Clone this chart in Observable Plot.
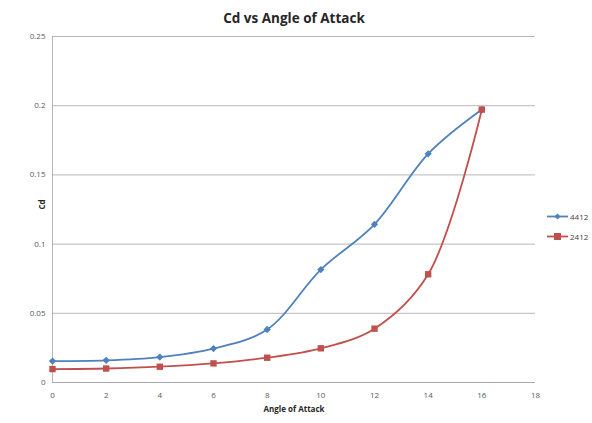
<!DOCTYPE html>
<html>
<head>
<meta charset="utf-8">
<script src="https://cdn.jsdelivr.net/npm/d3@7"></script>
<script src="https://cdn.jsdelivr.net/npm/@observablehq/plot@0.6"></script>
<style>
  html, body { margin: 0; padding: 0; background: #fff; }
  #wrap { position: relative; width: 592px; height: 423px; font-family: "Open Sans", "Liberation Sans", sans-serif; }
  #legend { position: absolute; left: 547px; top: 206px; font-size: 8px; color: #404040; }
  #legend div { display: flex; align-items: center; height: 20px; }
  #legend svg { margin-right: 1px; }
</style>
</head>
<body>
<div id="wrap"></div>
<script>
const title = "Cd vs Angle of Attack";
const xLabel = "Angle of Attack";
const yLabel = "Cd";
const angles = [0, 2, 4, 6, 8, 10, 12, 14, 16];
const cd4412 = [0.0155, 0.0160, 0.0184, 0.0245, 0.0383, 0.0816, 0.1143, 0.1652, 0.1972];
const cd2412 = [0.0097, 0.0101, 0.0114, 0.0138, 0.0179, 0.0247, 0.0389, 0.0782, 0.1972];
const seriesNames = ["4412", "2412"];
const seriesColors = ["#4F81BD", "#C0504D"];
const seriesSymbols = ["diamond", "square"];
const xTicks = [0, 2, 4, 6, 8, 10, 12, 14, 16, 18];
const yTicks = [0, 0.05, 0.1, 0.15, 0.2, 0.25];

const data = [];
angles.forEach((a, i) => {
  data.push({angle: a, cd: cd4412[i], series: seriesNames[0]});
  data.push({angle: a, cd: cd2412[i], series: seriesNames[1]});
});

const chart = Plot.plot({
  width: 592,
  height: 423,
  marginLeft: 52,
  marginRight: 57,
  marginTop: 36,
  marginBottom: 41,
  style: {fontFamily: "'Open Sans', 'Liberation Sans', sans-serif", fontSize: "8px", color: "#595959", background: "#fff"},
  x: {domain: [0, 18], ticks: xTicks, tickSize: 0, tickPadding: 10, label: null},
  y: {domain: [0, 0.25], ticks: yTicks, tickSize: 0, tickPadding: 7, label: null, tickFormat: d => String(d)},
  color: {domain: seriesNames, range: seriesColors},
  marks: [
    Plot.gridY(yTicks, {stroke: "#a6a6a6", strokeOpacity: 1, strokeWidth: 0.8}),
    Plot.ruleX([0], {stroke: "#a6a6a6", strokeWidth: 0.8}),
    Plot.ruleY([0], {stroke: "#a6a6a6", strokeWidth: 0.8}),
    Plot.axisX({ticks: xTicks, tickSize: 0, tickPadding: 10, label: null}),
    Plot.axisY({ticks: yTicks, tickSize: 0, tickPadding: 7, label: null, tickFormat: d => String(d)}),
    Plot.line(data, {x: "angle", y: "cd", z: "series", stroke: "series", strokeWidth: 1.8, curve: "catmull-rom"}),
    Plot.dot(data.filter(d => d.series === "4412"), {x: "angle", y: "cd", fill: "series", symbol: "square", rotate: 45, r: 2.9, stroke: "none"}),
    Plot.dot(data.filter(d => d.series === "2412"), {x: "angle", y: "cd", fill: "series", symbol: "square", r: 3.6, stroke: "none"}),
    Plot.text([title], {frameAnchor: "top", dy: -23, fontSize: 13.5, fontWeight: "bold", fill: "#262626"}),
    Plot.text([xLabel], {frameAnchor: "bottom", dy: 29, fontSize: 8, fontWeight: "bold", fill: "#262626"}),
    Plot.text([yLabel], {frameAnchor: "left", dx: -10, rotate: -90, fontSize: 8, fontWeight: "bold", fill: "#262626"})
  ]
});

const wrap = document.getElementById("wrap");
wrap.appendChild(chart);

const legend = document.createElement("div");
legend.id = "legend";
seriesNames.forEach((name, i) => {
  const sym = seriesSymbols[i] === "square"
    ? `<rect x="7" y="3" width="7" height="7" fill="${seriesColors[i]}"/>`
    : `<path d="M10.5 3.5 L13.5 6.5 L10.5 9.5 L7.5 6.5 Z" fill="${seriesColors[i]}"/>`;
  const row = document.createElement("div");
  row.innerHTML = `<svg width="22" height="13"><line x1="0" x2="21" y1="6.5" y2="6.5" stroke="${seriesColors[i]}" stroke-width="1.8"/>${sym}</svg><span>${name}</span>`;
  legend.appendChild(row);
});
wrap.appendChild(legend);
</script>
</body>
</html>
